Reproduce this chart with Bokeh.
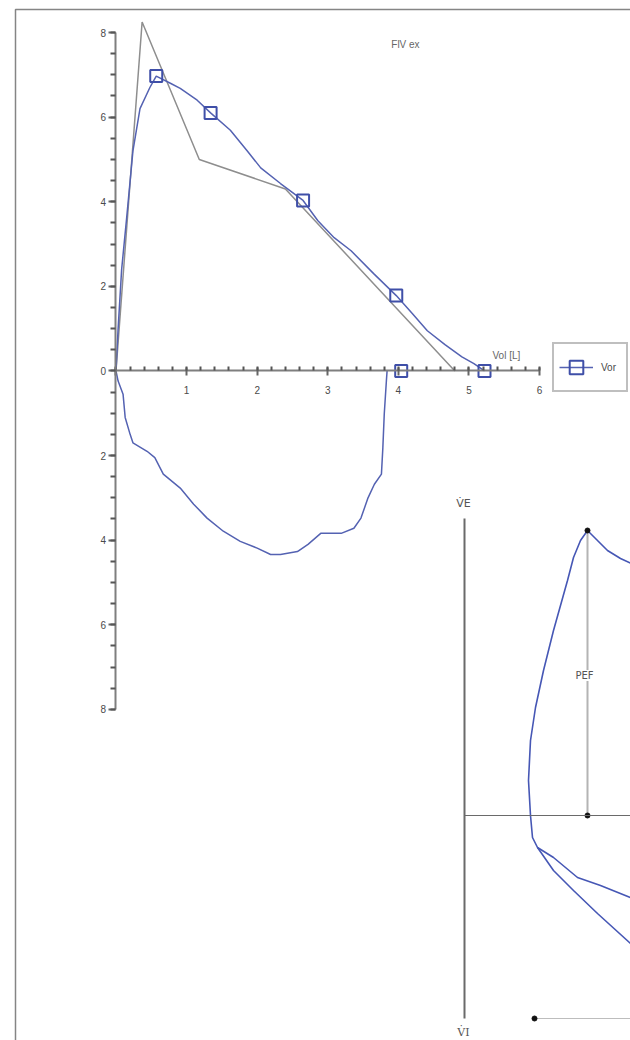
from bokeh.plotting import figure
from bokeh.models import (Range1d, LinearAxis, SingleIntervalTicker, FixedTicker,
                          CustomJSTickFormatter, Legend, LegendItem, Label)
from bokeh.embed import file_html
from bokeh.resources import INLINE

# ---------------- main flow-volume chart data ----------------
pred_vol = [0, 0.37, 1.18, 2.4, 4.8]
pred_flow = [0, 8.25, 5.0, 4.3, 0]

vor_ex_vol = [0, 0.03, 0.08, 0.15, 0.24, 0.34, 0.48, 0.57, 0.77, 0.91, 1.15, 1.34,
              1.62, 1.86, 2.05, 2.33, 2.65, 2.86, 3.09, 3.33, 3.65, 3.97, 4.2,
              4.41, 4.66, 4.9, 5.07, 5.22]
vor_ex_flow = [0, 1.0, 2.4, 3.6, 5.2, 6.2, 6.7, 6.97, 6.8, 6.68, 6.4, 6.1,
               5.69, 5.2, 4.8, 4.43, 4.03, 3.55, 3.15, 2.84, 2.3, 1.78, 1.35,
               0.95, 0.62, 0.33, 0.17, 0]

vor_in_vol = [0, 0.03, 0.1, 0.13, 0.2, 0.24, 0.44, 0.55, 0.67, 0.91, 1.1, 1.29,
              1.52, 1.76, 2.0, 2.19, 2.33, 2.57, 2.72, 2.9, 3.19, 3.37, 3.47,
              3.57, 3.66, 3.76, 3.78, 3.8, 3.83, 3.84]
vor_in_flow = [0, -0.24, -0.55, -1.1, -1.5, -1.7, -1.9, -2.05, -2.44, -2.77, -3.15,
               -3.48, -3.79, -4.03, -4.19, -4.34, -4.34, -4.27, -4.1, -3.84, -3.84,
               -3.72, -3.48, -3.0, -2.68, -2.44, -1.82, -1.02, -0.24, 0]

vor_mark_vol = [0.57, 1.34, 2.65, 3.97, 4.04, 5.22]
vor_mark_flow = [6.97, 6.1, 4.03, 1.78, 0, 0]

title_text = "FlV ex"
x_label_text = "Vol [L]"
legend_label = "Vor"

# ---------------- schematic flow-volume loop data ----------------
sch_ex_vol = [6.6, 6.4, 6.6, 7.1, 7.9, 8.9, 10.3, 10.9, 11.6, 12.3, 13.1, 14.3, 15.6, 17.1]
sch_ex_flow = [0, 3.5, 7.5, 10.8, 14.5, 18.5, 23.5, 25.8, 27.5, 28.5, 27.7, 26.5, 25.7, 25.0]
sch_in1_vol = [6.6, 6.8, 7.3, 8.9, 11.3, 13.6, 16.6, 17.5]
sch_in1_flow = [0, -2.2, -3.2, -4.2, -6.2, -7.0, -8.2, -8.6]
sch_in2_vol = [7.3, 8.9, 10.9, 13.3, 16.6, 17.5]
sch_in2_flow = [-3.2, -5.5, -7.5, -9.8, -12.8, -13.6]
pef_vol = [12.3, 12.3]
pef_flow = [28.5, 0]
rv_vol = [7.0, 18.0]
rv_flow = [-20.3, -20.3]

W, H = 630, 1040
BLUE = "#5462b2"
BLUE_D = "#3f4fa8"
GRAY = "#8e8e8e"
AX = "#7f7f7f"
TXT = "#4a4a4a"
FONT = "Liberation Sans"

p = figure(width=W, height=H, output_backend="svg", toolbar_location=None,
           x_range=Range1d(-1.636, 7.288), y_range=Range1d(-15.83, 8.757),
           x_axis_type=None, y_axis_type=None, min_border=0)
p.outline_line_color = None
p.background_fill_color = "white"
p.border_fill_color = "white"
p.extra_x_ranges = {"px": Range1d(0, W), "sec": Range1d(-46.4, 16.6)}
p.extra_y_ranges = {"px": Range1d(H, 0), "sec": Range1d(-22.5, 81.5)}

# outer frame
p.line(x=[15, 15, W + 5], y=[H + 5, 9, 9], x_range_name="px", y_range_name="px",
       line_color="#858585", line_width=1.5)

# main chart axes
yax = LinearAxis(fixed_location=0, bounds=(-8, 8),
                 ticker=SingleIntervalTicker(interval=2, num_minor_ticks=4),
                 formatter=CustomJSTickFormatter(code="return String(Math.abs(tick));"))
yax.axis_line_color = AX
yax.axis_line_width = 2
yax.major_tick_line_color = "#666666"
yax.minor_tick_line_color = "#555555"
yax.major_tick_line_width = 2
yax.minor_tick_line_width = 2
yax.major_tick_out = 7
yax.major_tick_in = 0
yax.minor_tick_out = 5
yax.minor_tick_in = 0
yax.major_label_standoff = 3
yax.major_label_text_font = FONT
yax.major_label_text_font_size = "10px"
yax.major_label_text_color = TXT
p.add_layout(yax, "left")

xax = LinearAxis(fixed_location=0, bounds=(0, 6),
                 ticker=SingleIntervalTicker(interval=1, num_minor_ticks=5),
                 formatter=CustomJSTickFormatter(code="return tick == 0 ? '' : String(tick);"))
xax.axis_line_color = AX
xax.axis_line_width = 2
xax.major_tick_line_color = "#666666"
xax.minor_tick_line_color = "#555555"
xax.major_tick_line_width = 2
xax.minor_tick_line_width = 2
xax.major_tick_in = 3
xax.major_tick_out = 5
xax.minor_tick_in = 4
xax.minor_tick_out = 0
xax.major_label_standoff = 10
xax.major_label_text_font = FONT
xax.major_label_text_font_size = "10px"
xax.major_label_text_color = TXT
p.add_layout(xax, "below")

# main chart series
p.line(pred_vol, pred_flow, line_color=GRAY, line_width=1.5)
ex = p.line(vor_ex_vol, vor_ex_flow, line_color=BLUE, line_width=1.5)
p.line(vor_in_vol, vor_in_flow, line_color=BLUE, line_width=1.5)
mk = p.scatter(vor_mark_vol, vor_mark_flow, marker="square", size=12,
               fill_color=None, line_color=BLUE_D, line_width=2)

p.add_layout(Label(x=4.1, y=7.72, text=title_text, text_font=FONT, text_font_size="10px",
                   text_color="#666666", text_align="center", text_baseline="middle"))
p.add_layout(Label(x=5.53, y=0.37, text=x_label_text, text_font=FONT, text_font_size="10px",
                   text_color="#666666", text_align="center", text_baseline="middle"))

legend = Legend(items=[LegendItem(label=legend_label, renderers=[ex, mk])],
                location=(552, 648), orientation="vertical",
                border_line_color=AX, border_line_width=2.5,
                background_fill_color="white", background_fill_alpha=1.0,
                padding=5, margin=0, spacing=0,
                glyph_width=34, glyph_height=36, label_height=36,
                label_standoff=8, label_text_font=FONT,
                label_text_font_size="10px", label_text_color=TXT)
p.add_layout(legend, "center")

# ---------------- schematic ----------------
s_vax = LinearAxis(x_range_name="sec", y_range_name="sec", fixed_location=0,
                   bounds=(-20.3, 29.7), ticker=FixedTicker(ticks=[]))
s_vax.axis_line_color = "#6a6a6a"
s_vax.axis_line_width = 2
s_vax.major_label_text_font_size = "0px"
p.add_layout(s_vax, "left")

s_hax = LinearAxis(x_range_name="sec", y_range_name="sec", fixed_location=0,
                   bounds=(0, 40), ticker=FixedTicker(ticks=[]))
s_hax.axis_line_color = "#6a6a6a"
s_hax.axis_line_width = 1.2
s_hax.major_label_text_font_size = "0px"
p.add_layout(s_hax, "below")

p.line(pef_vol, pef_flow, x_range_name="sec", y_range_name="sec",
       line_color="#b4b4b4", line_width=2)
p.line(rv_vol, rv_flow, x_range_name="sec", y_range_name="sec",
       line_color="#bdbdbd", line_width=1)
p.line(sch_ex_vol, sch_ex_flow, x_range_name="sec", y_range_name="sec",
       line_color="#4657b5", line_width=1.6)
p.line(sch_in1_vol, sch_in1_flow, x_range_name="sec", y_range_name="sec",
       line_color="#4657b5", line_width=1.6)
p.line(sch_in2_vol, sch_in2_flow, x_range_name="sec", y_range_name="sec",
       line_color="#4657b5", line_width=1.6)
p.scatter(pef_vol + [rv_vol[0]], pef_flow + [rv_flow[0]], x_range_name="sec",
          y_range_name="sec", size=5, color="#111111")

p.add_layout(Label(x=-0.1, y=31.2, x_range_name="sec", y_range_name="sec",
                   text="V\u0307E", text_font="DejaVu Sans", text_font_size="11px",
                   text_color="#555555", text_align="center", text_baseline="middle"))
p.add_layout(Label(x=12.0, y=14.0, x_range_name="sec", y_range_name="sec",
                   text="PEF", text_font="DejaVu Sans", text_font_size="10px",
                   text_color="#555555", text_align="center", text_baseline="middle",
                   background_fill_color="white", background_fill_alpha=1.0))
p.add_layout(Label(x=-0.1, y=-22.3, x_range_name="sec", y_range_name="sec",
                   text="V\u0307I", text_font="DejaVu Serif", text_font_size="11px",
                   text_color="#555555", text_align="center", text_baseline="bottom"))

open("out.html", "w").write(file_html(p, INLINE))
